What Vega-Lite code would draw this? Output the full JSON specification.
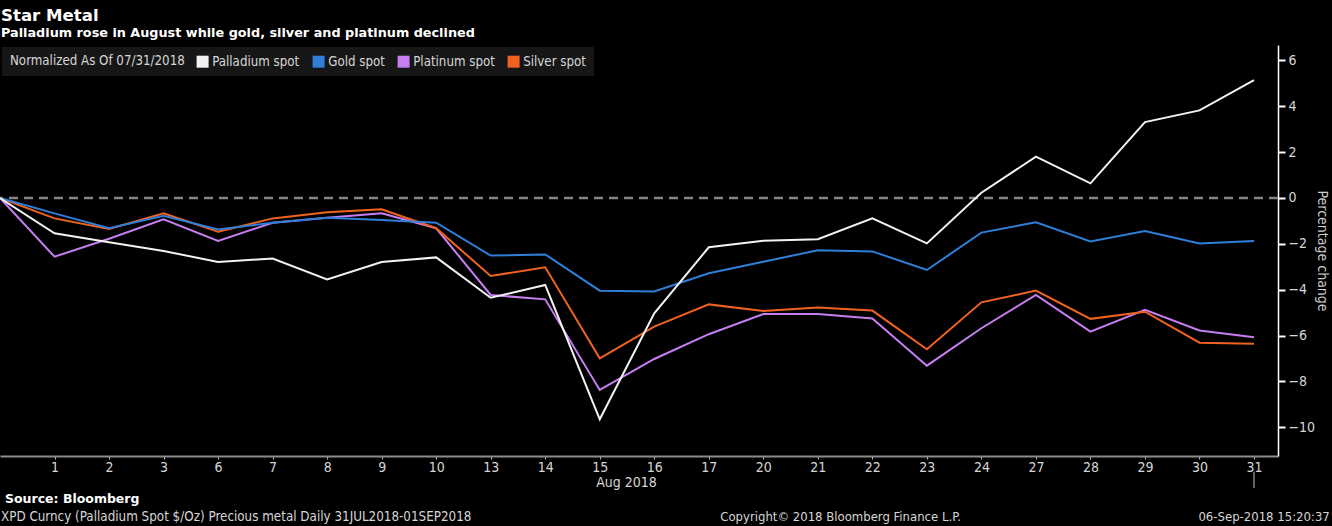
{
  "$schema": "https://vega.github.io/schema/vega-lite/v6.json",
  "width": 1278,
  "height": 411,
  "autosize": {"type": "none"},
  "padding": {"left": 0, "top": 45, "right": 54, "bottom": 70},
  "background": "#000000",
  "title": {
    "text": "Star Metal",
    "subtitle": "Palladium rose in August while gold, silver and platinum declined",
    "anchor": "start",
    "frame": "group",
    "offset": 5,
    "dx": 1,
    "font": "DejaVu Sans",
    "fontSize": 16.6,
    "fontWeight": "bold",
    "color": "#ffffff",
    "subtitleFont": "DejaVu Sans",
    "subtitleFontSize": 12.8,
    "subtitleFontWeight": "bold",
    "subtitleColor": "#ffffff",
    "subtitlePadding": 3
  },
  "config": {
    "view": {"stroke": null},
    "font": "Liberation Sans Narrow, DejaVu Sans Condensed, sans-serif"
  },
  "layer": [
    {
      "data": {"values": [{}]},
      "mark": {"type": "rule", "color": "#858585", "strokeWidth": 2.5, "strokeDash": [9, 6]},
      "encoding": {"y": {"datum": 0, "type": "quantitative", "scale": {"domain": [-11.25, 6.67], "nice": false, "zero": false}}}
    },
    {
      "data": {
        "values": [
          {"i": 0, "date": "2018-07-31", "Gold spot": 0, "Platinum spot": 0, "Silver spot": 0, "Palladium spot": 0},
          {"i": 1, "date": "2018-08-01", "Gold spot": -0.67, "Platinum spot": -2.56, "Silver spot": -0.89, "Palladium spot": -1.54},
          {"i": 2, "date": "2018-08-02", "Gold spot": -1.32, "Platinum spot": -1.78, "Silver spot": -1.35, "Palladium spot": -1.93},
          {"i": 3, "date": "2018-08-03", "Gold spot": -0.78, "Platinum spot": -0.93, "Silver spot": -0.67, "Palladium spot": -2.31},
          {"i": 4, "date": "2018-08-06", "Gold spot": -1.37, "Platinum spot": -1.87, "Silver spot": -1.47, "Palladium spot": -2.79},
          {"i": 5, "date": "2018-08-07", "Gold spot": -1.08, "Platinum spot": -1.08, "Silver spot": -0.89, "Palladium spot": -2.64},
          {"i": 6, "date": "2018-08-08", "Gold spot": -0.86, "Platinum spot": -0.86, "Silver spot": -0.62, "Palladium spot": -3.55},
          {"i": 7, "date": "2018-08-09", "Gold spot": -0.96, "Platinum spot": -0.67, "Silver spot": -0.49, "Palladium spot": -2.79},
          {"i": 8, "date": "2018-08-10", "Gold spot": -1.08, "Platinum spot": -1.32, "Silver spot": -1.32, "Palladium spot": -2.59},
          {"i": 9, "date": "2018-08-13", "Gold spot": -2.51, "Platinum spot": -4.23, "Silver spot": -3.40, "Palladium spot": -4.35},
          {"i": 10, "date": "2018-08-14", "Gold spot": -2.46, "Platinum spot": -4.42, "Silver spot": -3.02, "Palladium spot": -3.79},
          {"i": 11, "date": "2018-08-15", "Gold spot": -4.04, "Platinum spot": -8.37, "Silver spot": -6.99, "Palladium spot": -9.65},
          {"i": 12, "date": "2018-08-16", "Gold spot": -4.08, "Platinum spot": -7.02, "Silver spot": -5.61, "Palladium spot": -5.03},
          {"i": 13, "date": "2018-08-17", "Gold spot": -3.28, "Platinum spot": -5.94, "Silver spot": -4.64, "Palladium spot": -2.15},
          {"i": 14, "date": "2018-08-20", "Gold spot": -2.78, "Platinum spot": -5.06, "Silver spot": -4.93, "Palladium spot": -1.86},
          {"i": 15, "date": "2018-08-21", "Gold spot": -2.28, "Platinum spot": -5.06, "Silver spot": -4.77, "Palladium spot": -1.80},
          {"i": 16, "date": "2018-08-22", "Gold spot": -2.33, "Platinum spot": -5.25, "Silver spot": -4.91, "Palladium spot": -0.89},
          {"i": 17, "date": "2018-08-23", "Gold spot": -3.14, "Platinum spot": -7.31, "Silver spot": -6.60, "Palladium spot": -1.98},
          {"i": 18, "date": "2018-08-24", "Gold spot": -1.51, "Platinum spot": -5.68, "Silver spot": -4.55, "Palladium spot": 0.23},
          {"i": 19, "date": "2018-08-27", "Gold spot": -1.06, "Platinum spot": -4.23, "Silver spot": -4.04, "Palladium spot": 1.80},
          {"i": 20, "date": "2018-08-28", "Gold spot": -1.90, "Platinum spot": -5.83, "Silver spot": -5.27, "Palladium spot": 0.64},
          {"i": 21, "date": "2018-08-29", "Gold spot": -1.44, "Platinum spot": -4.88, "Silver spot": -4.96, "Palladium spot": 3.31},
          {"i": 22, "date": "2018-08-30", "Gold spot": -1.98, "Platinum spot": -5.78, "Silver spot": -6.31, "Palladium spot": 3.82},
          {"i": 23, "date": "2018-08-31", "Gold spot": -1.88, "Platinum spot": -6.07, "Silver spot": -6.36, "Palladium spot": 5.14}
        ]
      },
      "transform": [{"fold": ["Platinum spot", "Silver spot", "Gold spot", "Palladium spot"], "as": ["metal", "pct"]}],
      "mark": {"type": "line", "strokeWidth": 2},
      "encoding": {
        "x": {
          "field": "i",
          "type": "quantitative",
          "scale": {"domain": [0, 23.44], "nice": false, "zero": false},
          "axis": {
            "title": "Aug 2018",
            "titleX": 626,
            "titleAlign": "center",
            "titleFontSize": 14,
            "titleFontWeight": "normal",
            "titleColor": "#d6d6d6",
            "titlePadding": 1,
            "values": [1, 2, 3, 4, 5, 6, 7, 8, 9, 10, 11, 12, 13, 14, 15, 16, 17, 18, 19, 20, 21, 22, 23],
            "labelExpr": "['31','1','2','3','6','7','8','9','10','13','14','15','16','17','20','21','22','23','24','27','28','29','30','31'][datum.value]",
            "labelFontSize": 14,
            "labelColor": "#d6d6d6",
            "labelPadding": 1,
            "labelFlush": false,
            "labelOverlap": false,
            "domainColor": "#8c8c8c",
            "domainWidth": 2,
            "tickColor": "#bbbbbb",
            "tickSize": 3,
            "grid": false
          }
        },
        "y": {
          "field": "pct",
          "type": "quantitative",
          "scale": {"domain": [-11.25, 6.67], "nice": false, "zero": false},
          "axis": {
            "orient": "right",
            "values": [-10, -8, -6, -4, -2, 0, 2, 4, 6],
            "title": "Percentage change",
            "titleAngle": 90,
            "titleColor": "#cfcfcf",
            "titleFontSize": 14,
            "titleFontWeight": "normal",
            "titlePadding": 0,
            "labelColor": "#d6d6d6",
            "labelFontSize": 14,
            "labelPadding": 3,
            "domainColor": "#ffffff",
            "domainWidth": 1.5,
            "tickColor": "#ffffff",
            "tickSize": 7,
            "tickWidth": 2,
            "grid": false
          }
        },
        "color": {
          "field": "metal",
          "type": "nominal",
          "scale": {
            "domain": ["Palladium spot", "Gold spot", "Platinum spot", "Silver spot"],
            "range": ["#f2f2f2", "#2f7fd8", "#c77ef0", "#f0621f"]
          },
          "legend": {
            "title": "Normalized As Of 07/31/2018",
            "orient": "top-left",
            "offset": 2,
            "direction": "horizontal",
            "titleOrient": "left",
            "titleLimit": 400,
            "labelLimit": 300,
            "titleFontSize": 13.2,
            "titleFontWeight": "normal",
            "titleColor": "#d6d6d6",
            "titlePadding": 11,
            "labelFontSize": 13.2,
            "labelColor": "#d6d6d6",
            "labelOffset": 3,
            "columnPadding": 12,
            "symbolType": "square",
            "symbolSize": 144,
            "symbolStrokeWidth": 0,
            "fillColor": "#161616",
            "padding": 8,
            "encode": {"symbols": {"update": {"fill": {"scale": "color", "field": "value"}, "stroke": {"value": "transparent"}}}}
          }
        }
      }
    },
    {
      "data": {"values": [{}]},
      "mark": {"type": "rule", "color": "#808080", "strokeWidth": 1.5},
      "encoding": {"x": {"datum": 23, "type": "quantitative"}, "y": {"datum": -11.94, "type": "quantitative"}, "y2": {"datum": -12.64}}
    },
    {
      "data": {"values": [{"text": "Source: Bloomberg"}]},
      "mark": {"type": "text", "align": "left", "baseline": "middle", "dx": 5, "font": "DejaVu Sans", "fontWeight": "bold", "fontSize": 12.5, "color": "#ffffff"},
      "encoding": {"x": {"datum": 0, "type": "quantitative"}, "y": {"datum": -13.12, "type": "quantitative"}, "text": {"field": "text"}}
    },
    {
      "data": {"values": [{"text": "XPD Curncy (Palladium Spot  $/Oz) Precious metal  Daily 31JUL2018-01SEP2018"}]},
      "mark": {"type": "text", "align": "left", "baseline": "middle", "dx": 1, "fontSize": 13.3, "color": "#d6d6d6"},
      "encoding": {"x": {"datum": 0, "type": "quantitative"}, "y": {"datum": -13.9, "type": "quantitative"}, "text": {"field": "text"}}
    },
    {
      "data": {"values": [{"text": "Copyright© 2018 Bloomberg Finance L.P."}]},
      "mark": {"type": "text", "align": "left", "baseline": "middle", "fontSize": 13, "color": "#d6d6d6"},
      "encoding": {"x": {"datum": 13.21, "type": "quantitative"}, "y": {"datum": -13.9, "type": "quantitative"}, "text": {"field": "text"}}
    },
    {
      "data": {"values": [{"text": "06-Sep-2018 15:20:37"}]},
      "mark": {"type": "text", "align": "right", "baseline": "middle", "fontSize": 13, "color": "#d6d6d6"},
      "encoding": {"x": {"datum": 24.39, "type": "quantitative"}, "y": {"datum": -13.9, "type": "quantitative"}, "text": {"field": "text"}}
    }
  ]
}
